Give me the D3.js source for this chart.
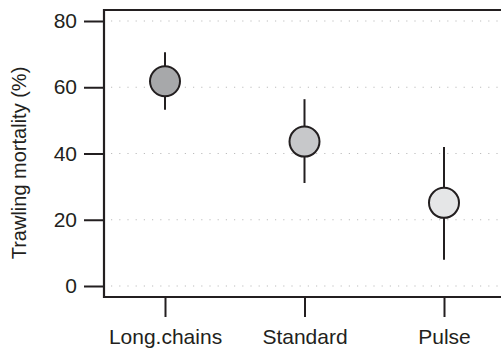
<!DOCTYPE html>
<html>
<head>
<meta charset="utf-8">
<script src="https://cdn.jsdelivr.net/npm/d3@7"></script>
<style>
  body { margin: 0; background: #fff; }
  svg { display: block; font-family: "Liberation Sans", Arial, sans-serif; }
</style>
</head>
<body>
<svg id="chart" width="501" height="349"></svg>
<script>
// Data
const gears = ["Long.chains", "Standard", "Pulse"];
const mortality = [61.8, 43.6, 25.1];
const lower = [53.2, 31.1, 7.9];
const upper = [70.6, 56.4, 42.0];
const fills = ["#a7a8aa", "#c7c8ca", "#e5e6e7"];
const yTicks = [0, 20, 40, 60, 80];

const svg = d3.select("#chart");
const plotLeft = 104, plotTop = 10, plotBottom = 297, plotRight = 501;

const x = d3.scalePoint()
    .domain(gears)
    .range([165, 444]);

const y = d3.scaleLinear()
    .domain([0, 80])
    .range([286, 21]);

const ink = "#231f20";

// dotted grid lines
svg.selectAll("line.grid")
    .data(yTicks)
    .enter()
    .append("line")
    .attr("class", "grid")
    .attr("x1", plotLeft + 7)
    .attr("x2", plotRight)
    .attr("y1", d => y(d))
    .attr("y2", d => y(d))
    .attr("stroke", "#bdbdbd")
    .attr("stroke-width", 1.2)
    .attr("stroke-dasharray", "1.2,7");

// y axis
const yAxis = svg.append("g")
    .attr("transform", `translate(${plotLeft},0)`)
    .call(d3.axisLeft(y).tickValues(yTicks).tickSize(20).tickPadding(7));
yAxis.select(".domain").remove();
yAxis.selectAll(".tick line").attr("stroke", ink).attr("stroke-width", 2);
yAxis.selectAll(".tick text")
    .attr("fill", ink)
    .style("font-size", "21px")
    .style("font-family", "'Liberation Sans', Arial, sans-serif");

// x axis
const xAxis = svg.append("g")
    .attr("transform", `translate(0,${plotBottom})`)
    .call(d3.axisBottom(x).tickSize(20).tickPadding(12));
xAxis.select(".domain").remove();
xAxis.selectAll(".tick line").attr("stroke", ink).attr("stroke-width", 2);
xAxis.selectAll(".tick text")
    .attr("fill", ink)
    .style("font-size", "21px")
    .style("font-family", "'Liberation Sans', Arial, sans-serif");

// frame: left, top, bottom
svg.append("path")
    .attr("d", `M${plotRight},${plotTop}H${plotLeft}V${plotBottom}H${plotRight}`)
    .attr("fill", "none")
    .attr("stroke", ink)
    .attr("stroke-width", 2.2);

// y axis title
svg.append("text")
    .attr("transform", "translate(26,163) rotate(-90)")
    .attr("text-anchor", "middle")
    .attr("fill", ink)
    .style("font-size", "20px")
    .text("Trawling mortality (%)");

// error bars
svg.selectAll("line.err")
    .data(gears)
    .enter()
    .append("line")
    .attr("class", "err")
    .attr("x1", d => x(d))
    .attr("x2", d => x(d))
    .attr("y1", (d, i) => y(lower[i]))
    .attr("y2", (d, i) => y(upper[i]))
    .attr("stroke", ink)
    .attr("stroke-width", 2);

// points
svg.selectAll("circle.pt")
    .data(gears)
    .enter()
    .append("circle")
    .attr("class", "pt")
    .attr("cx", d => x(d))
    .attr("cy", (d, i) => y(mortality[i]))
    .attr("r", 15)
    .attr("fill", (d, i) => fills[i])
    .attr("stroke", ink)
    .attr("stroke-width", 2);
</script>
</body>
</html>
